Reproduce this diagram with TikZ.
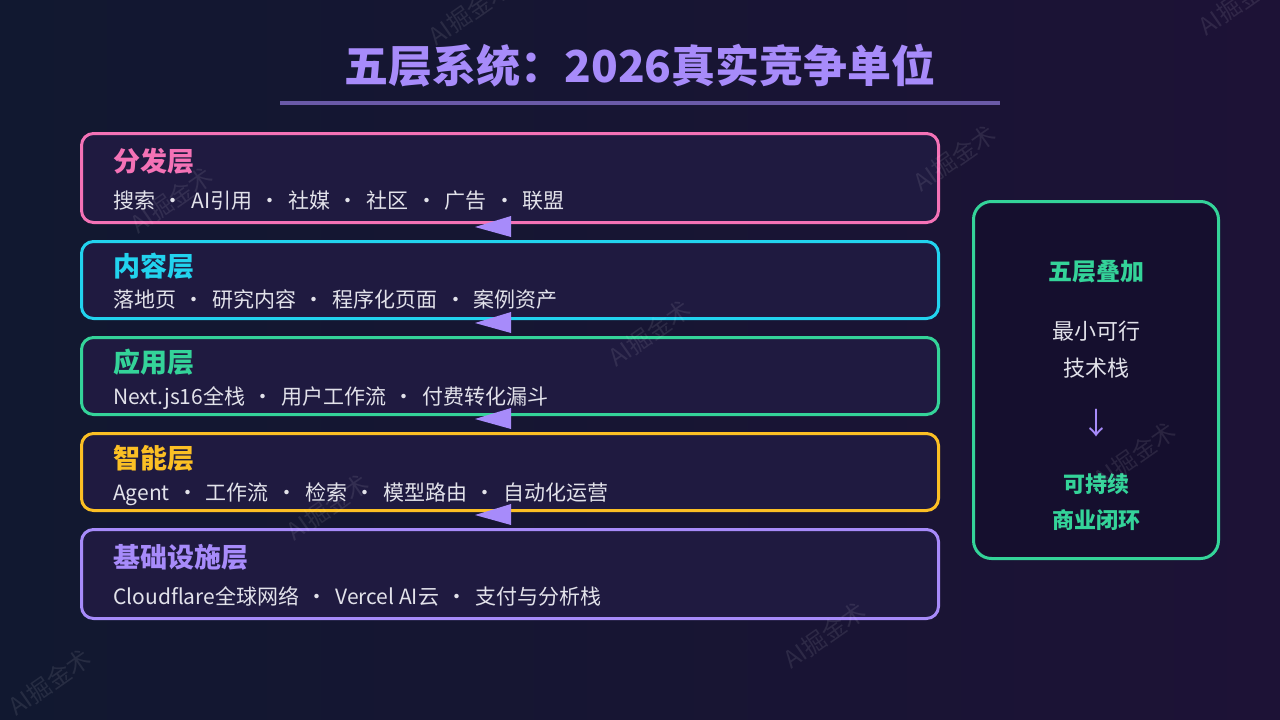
\documentclass[tikz,border=0pt]{standalone}
\usepackage{fontspec}
\setmainfont{Noto Sans CJK SC}
\usetikzlibrary{calc}

\definecolor{bgleft}{HTML}{111830}
\definecolor{bgright}{HTML}{1D1236}
\definecolor{boxfill}{HTML}{1F1A40}
\definecolor{sidefill}{HTML}{150F2E}
\definecolor{titlepurple}{HTML}{A78BFA}
\definecolor{rulepurple}{HTML}{6A5AA8}
\definecolor{subgray}{HTML}{E2E2EA}
\definecolor{lpink}{HTML}{F472B6}
\definecolor{lcyan}{HTML}{22D3EE}
\definecolor{lgreen}{HTML}{34D399}
\definecolor{lyellow}{HTML}{FBBF24}
\definecolor{lpurple}{HTML}{A78BFA}

\newcommand{\sep}{\hspace{0.36em}·\hspace{0.36em}}

\begin{document}
\begin{tikzpicture}[x=1pt,y=-1pt,
  layer box/.style={draw,line width=3pt,rounded corners=12pt,fill=boxfill,minimum width=857pt,inner sep=0pt},
  layer title/.style={anchor=base west,inner sep=0pt,font=\fontsize{27}{30}\selectfont\bfseries},
  layer text/.style={anchor=base west,inner sep=0pt,text=subgray,font=\fontsize{21}{24}\selectfont},
  side text/.style={anchor=base,inner sep=0pt,font=\fontsize{22}{26}\selectfont},
  flow/.style={fill=lpurple},
  wmark/.style={text=white,opacity=0.09,rotate=35,font=\fontsize{24}{26}\selectfont}]

\useasboundingbox (0,0) rectangle (1280,720);
\shade[left color=bgleft,right color=bgright] (0,0) rectangle (1280,720);

\node[anchor=base,inner sep=0pt,text=titlepurple,font=\fontsize{44}{50}\selectfont\bfseries] (title) at (640,82) {五层系统：2026真实竞争单位};
\fill[rulepurple] (280,101) rectangle (1000,105);

\node[layer box,draw=lpink,minimum height=89pt] (l1) at (510,178) {};
\node[layer box,draw=lcyan,minimum height=77pt] (l2) at (510,280) {};
\node[layer box,draw=lgreen,minimum height=77pt] (l3) at (510,376) {};
\node[layer box,draw=lyellow,minimum height=77pt] (l4) at (510,472) {};
\node[layer box,draw=lpurple,minimum height=89pt] (l5) at (510,574) {};

\node[layer title,text=lpink] (t1) at (113,171) {分发层};
\node[layer text] (s1) at (113,208) {搜索\sep AI引用\sep 社媒\sep 社区\sep 广告\sep 联盟};
\node[layer title,text=lcyan] (t2) at (113,276) {内容层};
\node[layer text] (s2) at (113,307) {落地页\sep 研究内容\sep 程序化页面\sep 案例资产};
\node[layer title,text=lgreen] (t3) at (113,372) {应用层};
\node[layer text] (s3) at (113,404) {Next.js16全栈\sep 用户工作流\sep 付费转化漏斗};
\node[layer title,text=lyellow] (t4) at (113,468) {智能层};
\node[layer text] (s4) at (113,500) {Agent\sep 工作流\sep 检索\sep 模型路由\sep 自动化运营};
\node[layer title,text=lpurple] (t5) at (113,567) {基础设施层};
\node[layer text] (s5) at (113,604) {Cloudflare全球网络\sep Vercel AI云\sep 支付与分析栈};

\coordinate (g1) at ($(l1.south)!0.5!(l2.north)$);
\coordinate (g2) at ($(l2.south)!0.5!(l3.north)$);
\coordinate (g3) at ($(l3.south)!0.5!(l4.north)$);
\coordinate (g4) at ($(l4.south)!0.5!(l5.north)$);
\foreach \g in {g1,g2,g3,g4}
  \fill[flow] ($(\g)+(1,-16)$) -- ($(\g)+(-35,-5)$) -- ($(\g)+(1,5)$) -- cycle;

\node[draw=lgreen,line width=3pt,rounded corners=18pt,fill=sidefill,minimum width=245pt,minimum height=357pt,inner sep=0pt] (side) at (1096,380) {};
\node[side text,text=lgreen,font=\fontsize{24}{28}\selectfont\bfseries] (r1) at (1096,280) {五层叠加};
\node[side text,text=subgray] (r2) at (1096,339) {最小可行};
\node[side text,text=subgray] (r3) at (1096,376) {技术栈};
\node[side text,text=lpurple,font=\fontsize{30}{34}\selectfont] (r4) at (1096,434) {↓};
\node[side text,text=lgreen,font=\fontsize{22}{26}\selectfont\bfseries] (r5) at (1096,492) {可持续};
\node[side text,text=lgreen,font=\fontsize{22}{26}\selectfont\bfseries] (r6) at (1096,528) {商业闭环};

\node[wmark] (w1) at (470,12) {AI掘金术};
\node[wmark] (w2) at (172,200) {AI掘金术};
\node[wmark] (w3) at (955,158) {AI掘金术};
\node[wmark] (w4) at (650,333) {AI掘金术};
\node[wmark] (w5) at (328,507) {AI掘金术};
\node[wmark] (w6) at (1135,455) {AI掘金术};
\node[wmark] (w7) at (825,635) {AI掘金术};
\node[wmark] (w8) at (50,682) {AI掘金术};
\node[wmark] (w9) at (1240,2) {AI掘金术};
\end{tikzpicture}
\end{document}
